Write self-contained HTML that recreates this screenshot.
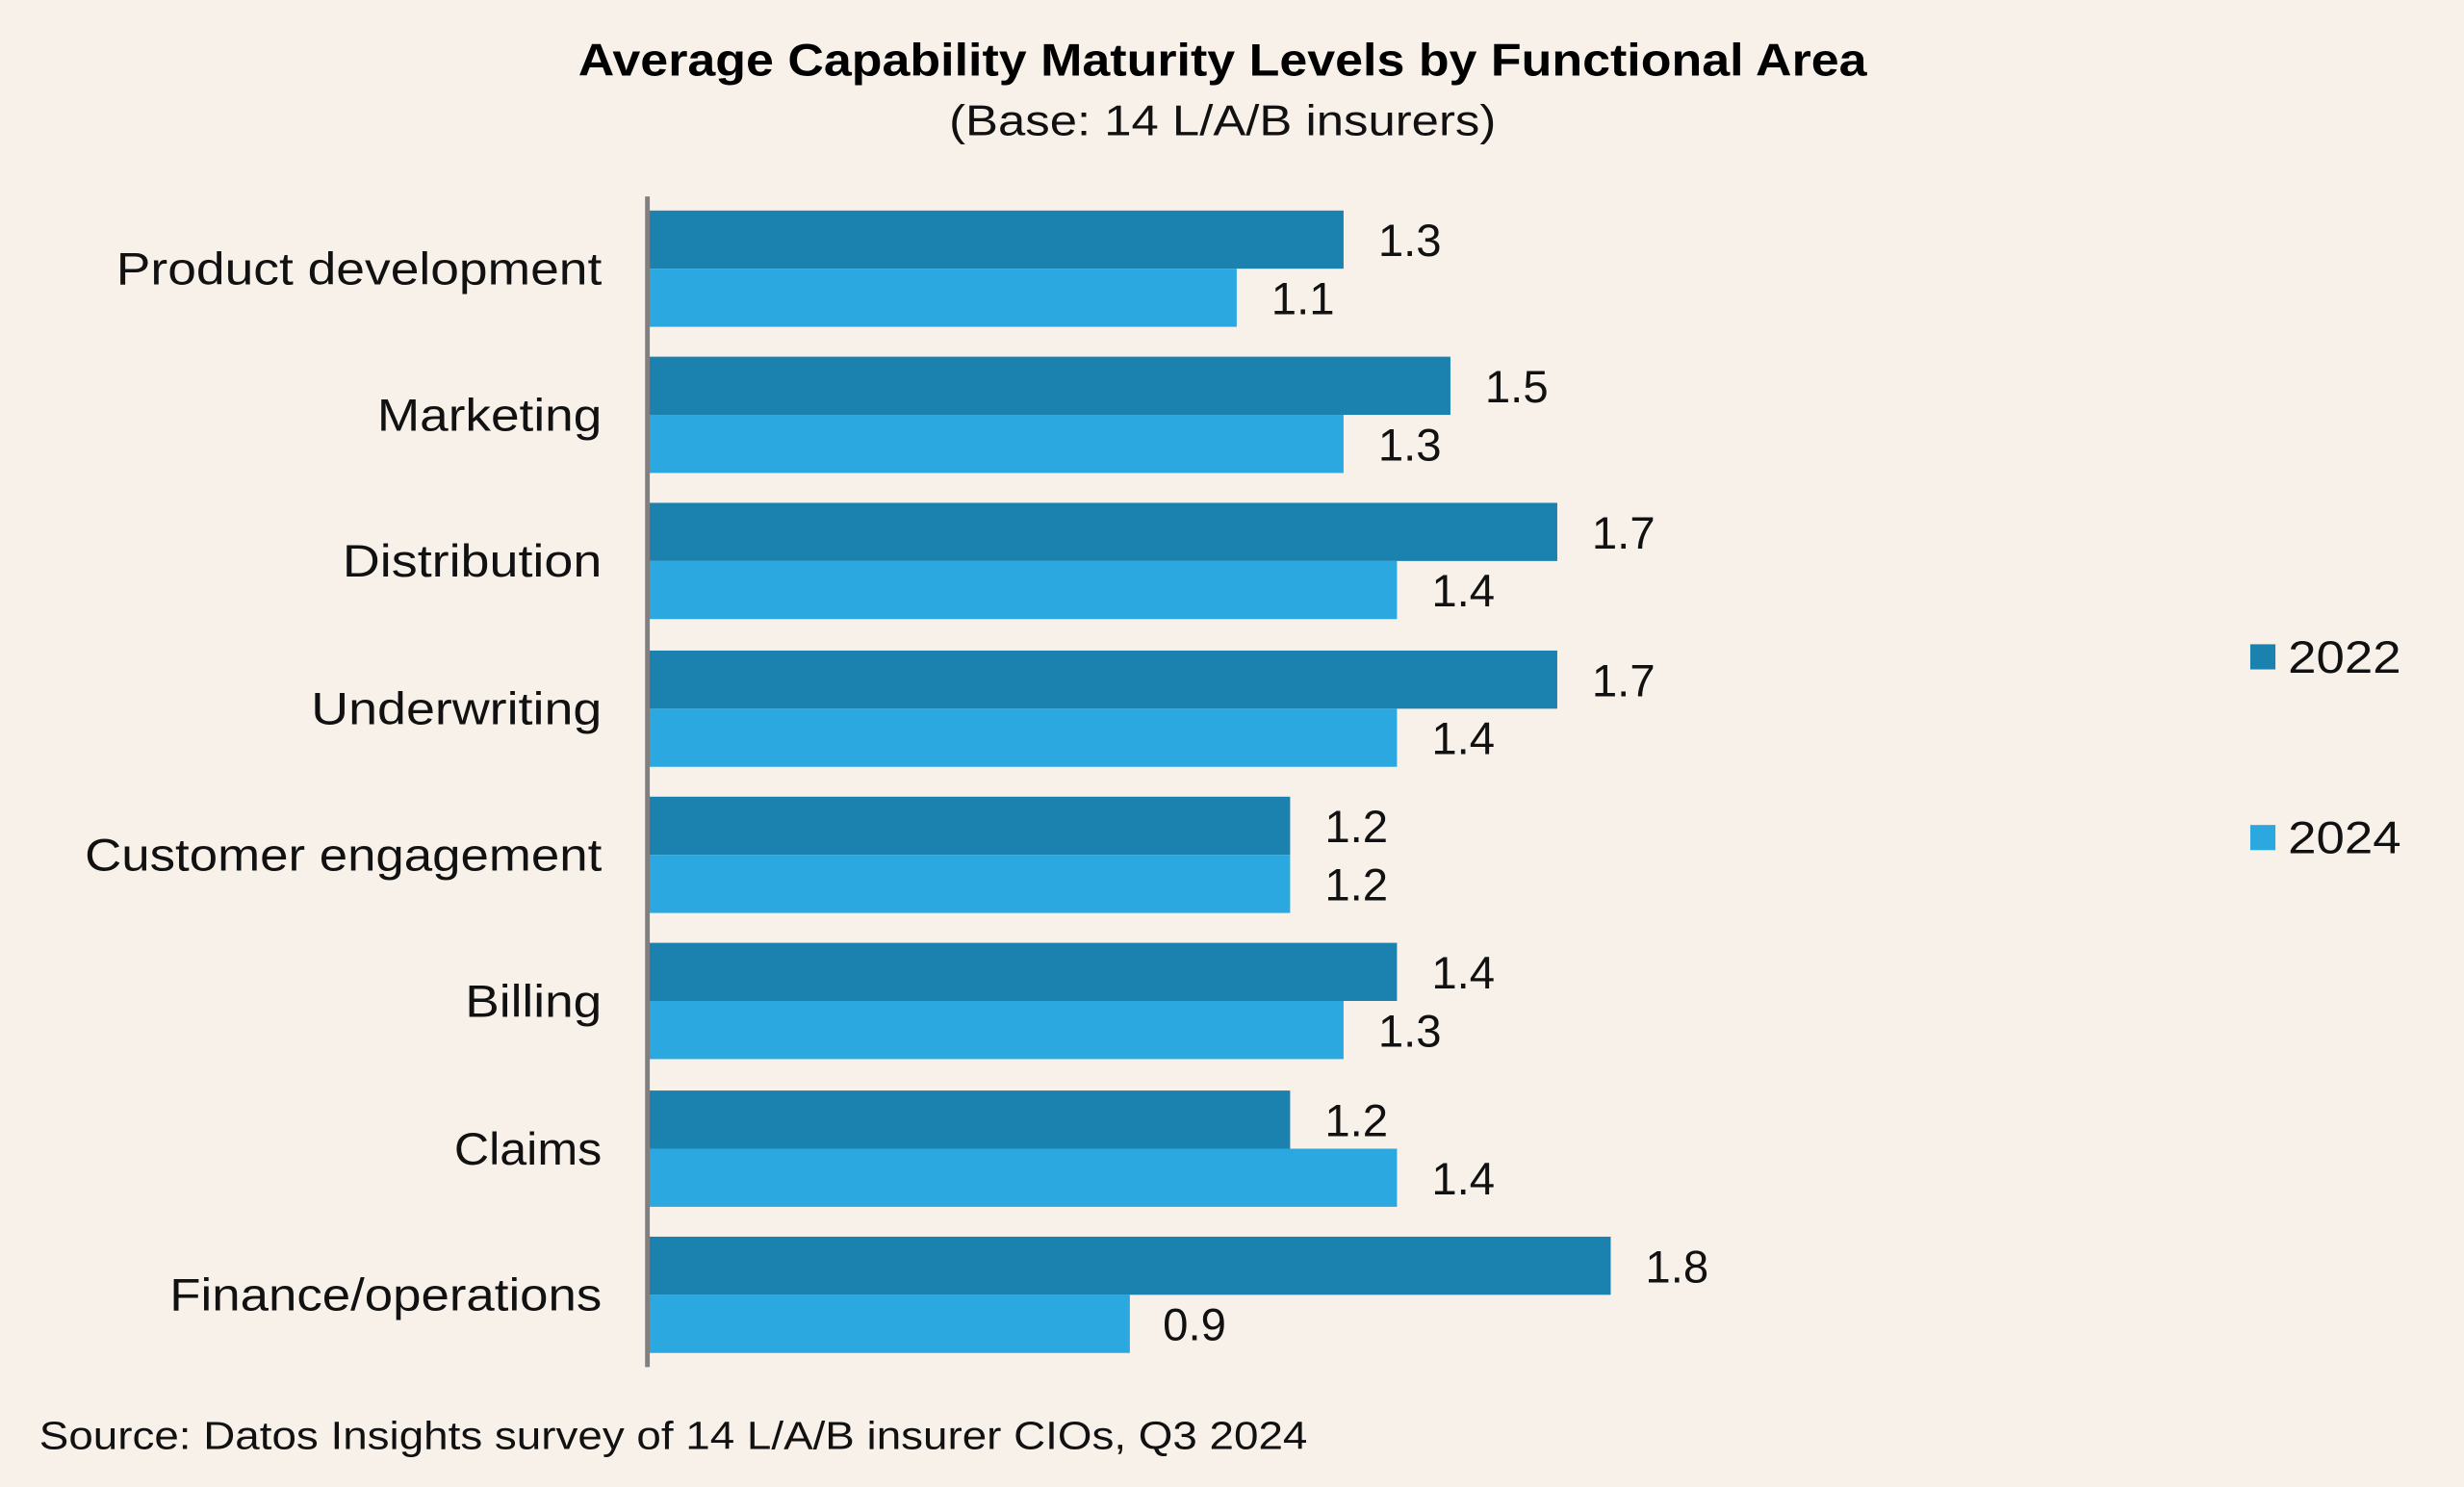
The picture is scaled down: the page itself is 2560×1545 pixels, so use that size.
<!DOCTYPE html>
<html><head><meta charset="utf-8"><style>
html,body{margin:0;padding:0;background:#f8f1ea;}
svg{display:block;font-family:"Liberation Sans",sans-serif;}
</style></head><body>
<svg width="2560" height="1545" viewBox="0 0 1568 946.3" preserveAspectRatio="none">
<rect x="0" y="0" width="1568" height="947" fill="#f8f1ea"/>
<text x="368" y="48" textLength="820" lengthAdjust="spacingAndGlyphs" font-size="29" font-weight="bold" fill="#000">Average Capability Maturity Levels by Functional Area</text>
<text x="604" y="86" textLength="348" lengthAdjust="spacingAndGlyphs" font-size="27" fill="#111">(Base: 14 L/A/B insurers)</text>
<g font-size="29" fill="#111">
<rect x="413" y="134" width="442" height="37" fill="#1b82b0"/><rect x="413" y="171" width="374" height="37" fill="#2ba8e0"/>
<text x="877" y="163">1.3</text><text x="809" y="200">1.1</text>
<text x="74" y="181" textLength="309" lengthAdjust="spacingAndGlyphs">Product development</text>

<rect x="413" y="227" width="510" height="37" fill="#1b82b0"/><rect x="413" y="264" width="442" height="37" fill="#2ba8e0"/>
<text x="945" y="256">1.5</text><text x="877" y="293">1.3</text>
<text x="240" y="274" textLength="143" lengthAdjust="spacingAndGlyphs">Marketing</text>

<rect x="413" y="320" width="578" height="37" fill="#1b82b0"/><rect x="413" y="357" width="476" height="37" fill="#2ba8e0"/>
<text x="1013" y="349">1.7</text><text x="911" y="386">1.4</text>
<text x="218" y="367" textLength="165" lengthAdjust="spacingAndGlyphs">Distribution</text>

<rect x="413" y="414" width="578" height="37" fill="#1b82b0"/><rect x="413" y="451" width="476" height="37" fill="#2ba8e0"/>
<text x="1013" y="443">1.7</text><text x="911" y="480">1.4</text>
<text x="198" y="461" textLength="185" lengthAdjust="spacingAndGlyphs">Underwriting</text>

<rect x="413" y="507" width="408" height="37" fill="#1b82b0"/><rect x="413" y="544" width="408" height="37" fill="#2ba8e0"/>
<text x="843" y="536">1.2</text><text x="843" y="573">1.2</text>
<text x="54" y="554" textLength="329" lengthAdjust="spacingAndGlyphs">Customer engagement</text>

<rect x="413" y="600" width="476" height="37" fill="#1b82b0"/><rect x="413" y="637" width="442" height="37" fill="#2ba8e0"/>
<text x="911" y="629">1.4</text><text x="877" y="666">1.3</text>
<text x="296" y="647" textLength="87" lengthAdjust="spacingAndGlyphs">Billing</text>

<rect x="413" y="694" width="408" height="37" fill="#1b82b0"/><rect x="413" y="731" width="476" height="37" fill="#2ba8e0"/>
<text x="843" y="723">1.2</text><text x="911" y="760">1.4</text>
<text x="289" y="741" textLength="94" lengthAdjust="spacingAndGlyphs">Claims</text>

<rect x="413" y="787" width="612" height="37" fill="#1b82b0"/><rect x="413" y="824" width="306" height="37" fill="#2ba8e0"/>
<text x="1047" y="816">1.8</text><text x="740" y="853">0.9</text>
<text x="108" y="834" textLength="275" lengthAdjust="spacingAndGlyphs">Finance/operations</text>
</g>
<line x1="412" y1="125" x2="412" y2="870" stroke="#808080" stroke-width="3"/>
<rect x="1432" y="410" width="16" height="16" fill="#1b82b0"/>
<text x="1456" y="428" font-size="29" fill="#111" textLength="72" lengthAdjust="spacingAndGlyphs">2022</text>
<rect x="1432" y="525" width="16" height="16" fill="#2ba8e0"/>
<text x="1456" y="543" font-size="29" fill="#111" textLength="72" lengthAdjust="spacingAndGlyphs">2024</text>
<text x="25" y="922" font-size="25" fill="#111" textLength="807" lengthAdjust="spacingAndGlyphs">Source: Datos Insights survey of 14 L/A/B insurer CIOs, Q3 2024</text>
</svg>
</body></html>
